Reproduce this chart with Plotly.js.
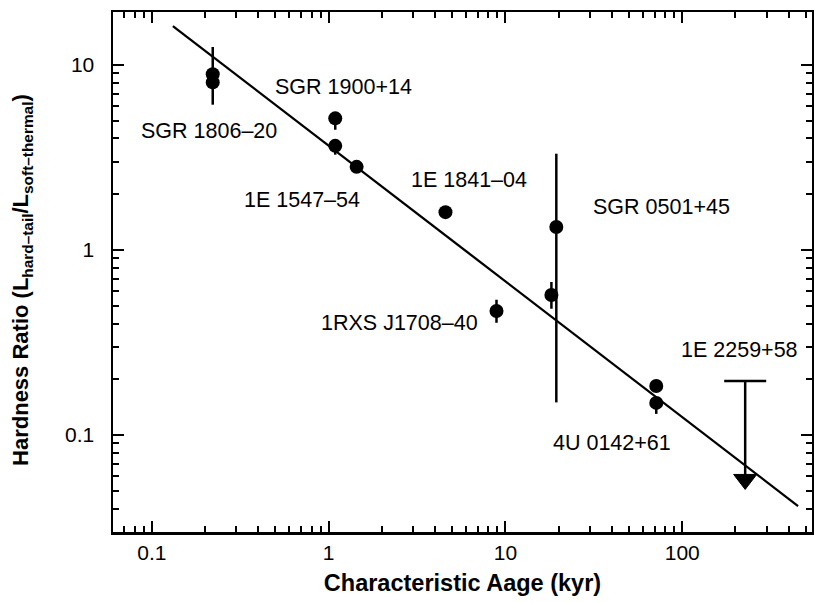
<!DOCTYPE html>
<html>
<head>
<meta charset="utf-8">
<script src="https://cdn.plot.ly/plotly-3.0.1.min.js"></script>
<style>html,body{margin:0;padding:0;background:#fff;}#chart{width:814px;height:602px;}</style>
</head>
<body>
<div id="chart"></div>
<script>
// Detections: characteristic age (kyr) and hardness ratio
var srcNames  = ["SGR 1806-20a","SGR 1806-20b","SGR 1900+14a","SGR 1900+14b","1E 1547-54","1E 1841-04","SGR 0501+45","AXP (unlabelled)","1RXS J1708-40","4U 0142+61a","4U 0142+61b"];
var ageKyr    = [0.221, 0.221, 1.09, 1.09, 1.44, 4.58, 19.4, 18.2, 8.9, 71.3, 71.3];
var hardRatio = [8.89, 8.04, 5.14, 3.65, 2.81, 1.60, 1.33, 0.571, 0.468, 0.184, 0.149];
var errPlus   = [3.6, 0, 0, 0.1, 0, 0, 1.98, 0.10, 0.07, 0, 0.01];
var errMinus  = [2.8, 0, 0.68, 0.38, 0, 0, 1.18, 0.09, 0.064, 0, 0.019];

// Upper limit (1E 2259+58)
var ulAge   = [227];
var ulTop   = [0.196];
var ulValue = [0.0575];

// Best-fit power law
var fitAge   = [0.1315, 452];
var fitRatio = [16.2, 0.0413];

// Source labels
var labelText = ["SGR 1806\u201320","SGR 1900+14","1E 1547\u201354","1E 1841\u201304","SGR 0501+45","1RXS J1708\u201340","1E 2259+58","4U 0142+61"];
var labelAge  = [0.21, 1.22, 0.71, 6.2, 76, 2.51, 210, 40];
var labelRat  = [4.4, 7.6, 1.85, 2.39, 1.71, 0.405, 0.289, 0.091];

// Tick labels
var xTickVals = [0.1, 1, 10, 100];
var xTickText = ["0.1", "1", "10", "100"];
var yTickVals = [0.1, 1, 10];
var yTickText = ["0.1", "1", "10"];

var FONT = "Liberation Sans, Arial, sans-serif";

var traces = [
  {x: fitAge, y: fitRatio, mode: "lines", line: {color: "black", width: 2.3}, hoverinfo: "skip"},
  {x: ageKyr, y: hardRatio, mode: "markers", text: srcNames,
   marker: {color: "black", size: 14, symbol: "circle"},
   error_y: {type: "data", symmetric: false, array: errPlus, arrayminus: errMinus, color: "black", thickness: 2.5, width: 0}},
  {x: ulAge, y: ulValue, mode: "markers",
   marker: {symbol: "triangle-down", size: 20, color: "black", line: {color: "black", width: 1}},
   error_y: {type: "data", symmetric: false, array: [ulTop[0] - ulValue[0]], arrayminus: [0], color: "black", thickness: 2.5, width: 0}},
  {x: ulAge, y: ulTop, mode: "markers",
   marker: {symbol: "line-ew", size: 30, color: "black", line: {color: "black", width: 2.5}}}
];

var annotations = labelText.map(function(t, i){
  return {x: Math.log10(labelAge[i]), y: Math.log10(labelRat[i]), xref: "x", yref: "y", text: t, showarrow: false,
          font: {family: FONT, size: 21.5, color: "black"}};
});
annotations.push({
  xref: "paper", yref: "paper", x: -0.130, y: 0.485, xanchor: "center", yanchor: "middle", textangle: -90, showarrow: false,
  text: "<b>Hardness Ratio (L<sub>hard\u2013tail</sub>/L<sub>soft\u2013thermal</sub>)</b>",
  font: {family: FONT, size: 22, color: "black"}
});

var axisCommon = {
  type: "log", showgrid: false, zeroline: false, showline: true, linecolor: "black", linewidth: 2.5,
  mirror: "allticks", ticks: "inside", ticklen: 11, tickwidth: 2, tickcolor: "black",
  tickfont: {family: FONT, size: 21, color: "black"},
  minor: {ticks: "inside", ticklen: 6, tickwidth: 2, tickcolor: "black", dtick: "D1", showgrid: false}
};

var layout = {
  width: 814, height: 602, showlegend: false,
  paper_bgcolor: "white", plot_bgcolor: "white",
  margin: {l: 113, r: 2, t: 12, b: 70},
  font: {family: FONT, color: "black"},
  xaxis: Object.assign({}, axisCommon, {
    range: [Math.log10(0.0603), Math.log10(542)],
    tickmode: "array", tickvals: xTickVals, ticktext: xTickText, ticklabelstandoff: 0,
    title: {text: "<b>Characteristic Aage (kyr)</b>", font: {size: 23.5, color: "black"}, standoff: 12}
  }),
  yaxis: Object.assign({}, axisCommon, {
    range: [Math.log10(0.0299), Math.log10(19.3)],
    tickmode: "array", tickvals: yTickVals, ticktext: yTickText, ticklabelstandoff: 12
  }),
  annotations: annotations
};

Plotly.newPlot("chart", traces, layout, {staticPlot: true, displayModeBar: false});
</script>
</body>
</html>
